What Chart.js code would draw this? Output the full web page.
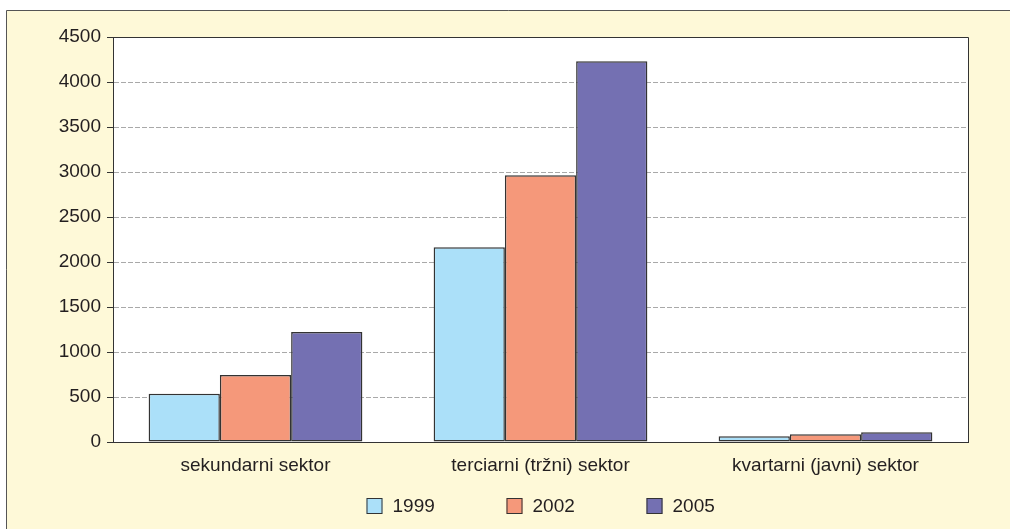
<!DOCTYPE html>
<html>
<head>
<meta charset="utf-8">
<script src="https://cdn.jsdelivr.net/npm/chart.js@4"></script>
<style>
  html, body { margin: 0; padding: 0; background: #fff; }
  #wrap { width: 1010px; height: 529px; }
</style>
</head>
<body>
<div id="wrap"><canvas id="sectorChart" width="1010" height="529"></canvas></div>
<script>
// data
const categories = ['sekundarni sektor', 'terciarni (tržni) sektor', 'kvartarni (javni) sektor'];
const years = ['1999', '2002', '2005'];
const values1999 = [535, 2165, 63];
const values2002 = [745, 2965, 85];
const values2005 = [1222, 4230, 108];
const yTicks = [0, 500, 1000, 1500, 2000, 2500, 3000, 3500, 4000, 4500];

const barColors = ['#abe0f9', '#f5987a', '#7470b2'];
const edge = '#333333';
const textColor = '#231f20';
const fontFamily = "'Liberation Sans', Arial, Helvetica, sans-serif";

// page background, white plot area and plot frame
const framePlugin = {
    id: 'frame',
    beforeDraw(chart) {
        const ctx = chart.ctx;
        const area = chart.chartArea;
        ctx.save();
        ctx.fillStyle = '#ffffff';
        ctx.fillRect(0, 0, chart.width, chart.height);
        ctx.fillStyle = '#fef9d8';
        ctx.fillRect(6, 10, chart.width - 6, chart.height - 10);
        ctx.strokeStyle = '#555555';
        ctx.lineWidth = 1;
        ctx.beginPath();
        ctx.moveTo(6.5, chart.height);
        ctx.lineTo(6.5, 10.5);
        ctx.lineTo(chart.width, 10.5);
        ctx.stroke();
        ctx.fillStyle = '#ffffff';
        ctx.fillRect(area.left, area.top, area.right - area.left, area.bottom - area.top);
        ctx.restore();
    },
    afterDraw(chart) {
        const ctx = chart.ctx;
        const area = chart.chartArea;
        ctx.save();
        ctx.strokeStyle = '#333333';
        ctx.lineWidth = 1;
        ctx.beginPath();
        ctx.moveTo(Math.round(area.left) + 0.5, Math.round(area.top) + 0.5);
        ctx.lineTo(Math.round(area.right) + 0.5, Math.round(area.top) + 0.5);
        ctx.lineTo(Math.round(area.right) + 0.5, Math.round(area.bottom) + 0.5);
        ctx.stroke();

        // legend row under the category labels
        const sets = chart.data.datasets;
        const step = 140;
        const startX = (area.left + area.right) / 2 - 174;
        ctx.font = '19px ' + fontFamily;
        ctx.textBaseline = 'middle';
        ctx.textAlign = 'left';
        sets.forEach((ds, i) => {
            const x = startX + i * step;
            ctx.fillStyle = ds.backgroundColor;
            ctx.fillRect(x, 498, 16, 16);
            ctx.strokeStyle = edge;
            ctx.strokeRect(x + 0.5, 498.5, 15, 15);
            ctx.fillStyle = textColor;
            ctx.fillText(ds.label, x + 26, 507);
        });
        ctx.restore();
    }
};

const ctx = document.getElementById('sectorChart').getContext('2d');
const chart = new Chart(ctx, {
    type: 'bar',
    data: {
        labels: categories,
        datasets: [
            { label: years[0], data: values1999, backgroundColor: barColors[0] },
            { label: years[1], data: values2002, backgroundColor: barColors[1] },
            { label: years[2], data: values2005, backgroundColor: barColors[2] }
        ]
    },
    options: {
        responsive: false,
        animation: false,
        layout: { padding: { top: 37, right: 42, left: 0, bottom: 0 } },
        datasets: {
            bar: {
                categoryPercentage: 0.75,
                barPercentage: 1,
                borderColor: edge,
                borderWidth: 1.5,
                borderSkipped: false
            }
        },
        plugins: {
            legend: { display: false },
            tooltip: { enabled: false }
        },
        scales: {
            x: {
                grid: { display: false, drawTicks: false },
                border: { display: true, color: '#333333', width: 1 },
                ticks: {
                    color: textColor,
                    padding: 12,
                    font: { size: 19, family: fontFamily }
                },
                afterFit(scale) { scale.height = 87; }
            },
            y: {
                min: 0,
                max: 4500,
                afterBuildTicks(scale) {
                    scale.ticks = yTicks.map(v => ({ value: v }));
                },
                grid: {
                    color: '#a9a9a9',
                    tickColor: '#333333',
                    tickLength: 6
                },
                border: { display: true, color: '#333333', width: 1, dash: [5, 2] },
                ticks: {
                    color: textColor,
                    padding: 6,
                    font: { size: 19, family: fontFamily },
                    callback: (value) => String(value)
                },
                afterFit(scale) { scale.width = 113; }
            }
        }
    },
    plugins: [framePlugin]
});
</script>
</body>
</html>
